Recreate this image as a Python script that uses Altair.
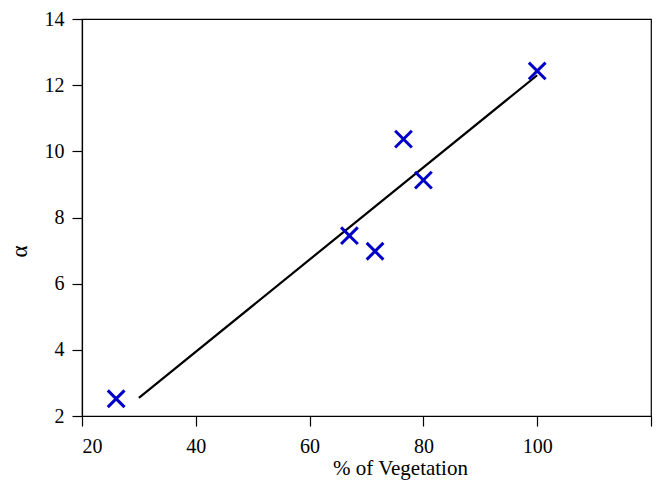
import altair as alt
import pandas as pd

veg = [26, 67, 71.5, 76.5, 80, 100]
alpha = [2.52, 7.45, 6.98, 10.37, 9.13, 12.43]
fit_x = [30, 100]
fit_y = [2.55, 12.3]

x_ticks = [20, 40, 60, 80, 100, 120]
y_ticks = [2, 4, 6, 8, 10, 12, 14]

pts = pd.DataFrame({"veg": veg, "alpha": alpha})
fit = pd.DataFrame({"veg": fit_x, "alpha": fit_y})

xscale = alt.Scale(domain=[20, 120], nice=False, zero=False)
yscale = alt.Scale(domain=[2, 14], nice=False, zero=False)

xaxis = alt.Axis(values=x_ticks, labelExpr="datum.value == 120 ? '' : datum.label",
                 title="% of Vegetation", titleX=318, titleY=58, titleFontSize=21,
                 titleBaseline="alphabetic", grid=False, tickSize=10, labelPadding=10)
yaxis = alt.Axis(values=y_ticks, title="α", titleX=-56, titleY=232, titleFontSize=23,
                 titleAngle=-90, titleBaseline="alphabetic", titleAlign="center",
                 grid=False, tickSize=10, labelPadding=8)

line = alt.Chart(fit).mark_line(color="black", strokeWidth=2.2).encode(
    x=alt.X("veg:Q", scale=xscale, axis=xaxis),
    y=alt.Y("alpha:Q", scale=yscale, axis=yaxis),
)

points = alt.Chart(pts).mark_point(
    shape="M-1,-1L1,1M-1,1L1,-1", size=280, filled=False,
    color="#0000c8", strokeWidth=3, opacity=1,
).encode(
    x=alt.X("veg:Q", scale=xscale),
    y=alt.Y("alpha:Q", scale=yscale),
)

chart = (line + points).properties(
    width=569, height=397,
    autosize=alt.AutoSizeParams(type="none"),
    padding={"left": 74, "top": 11, "right": 10, "bottom": 68},
).configure_view(
    stroke="black", strokeWidth=1.2
).configure_axis(
    domainColor="black", tickColor="black", labelColor="black", titleColor="black",
    labelFont="Liberation Serif", titleFont="Liberation Serif",
    labelFontSize=20, titleFontWeight="normal",
    domainWidth=1.2, tickWidth=1.2,
)

chart.save("out.html", embed_options={"renderer": "svg", "actions": False})
